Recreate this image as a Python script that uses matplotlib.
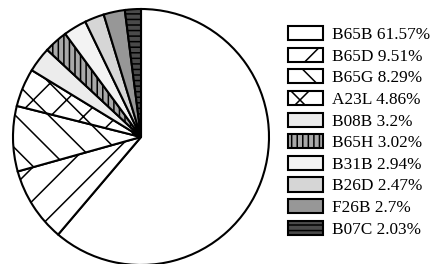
import matplotlib
matplotlib.use("Agg")
import matplotlib.pyplot as plt

plt.rcParams["font.family"] = "Liberation Serif"
plt.rcParams["hatch.linewidth"] = 1.1

labels = ["B65B", "B65D", "B65G", "A23L", "B08B", "B65H", "B31B", "B26D", "F26B", "B07C"]
shares = [61.57, 9.51, 8.29, 4.86, 3.2, 3.02, 2.94, 2.47, 2.7, 2.03]
share_text = ["61.57%", "9.51%", "8.29%", "4.86%", "3.2%", "3.02%", "2.94%", "2.47%", "2.7%", "2.03%"]

fills = ["white", "white", "white", "white", "#ececec", "#a9a9a9",
         "#f3f3f3", "#d6d6d6", "#979797", "#4a4a4a"]
hatches = [None, "/", "\\", "x", None, "|||", None, None, None, "---"]

fig = plt.figure(figsize=(4.38, 2.64), dpi=100)
# pie centre at (141, 137) px, radius 128 px
ax = fig.add_axes([13 / 438, (264 - 137 - 128) / 264, 256 / 438, 256 / 264])

wedges, _ = ax.pie(shares, startangle=90, counterclock=False, colors=fills,
                   wedgeprops=dict(edgecolor="black", linewidth=1.5))
for w, h in zip(wedges, hatches):
    if h:
        w.set_hatch(h)
ax.set_xlim(-1.0, 1.0)
ax.set_ylim(-1.0, 1.0)
ax.set_aspect("equal")
for w in wedges:
    w.set_clip_on(False)

leg = fig.legend(wedges, [f"{l} {s}" for l, s in zip(labels, share_text)],
                 loc="upper left", bbox_to_anchor=(288 / 438, 1 - 26 / 264),
                 frameon=False, borderpad=0, borderaxespad=0,
                 fontsize=12.4, handlelength=2.05, handleheight=0.88,
                 handletextpad=0.53, labelspacing=0.27)

fig.savefig("out.png", dpi=100)
